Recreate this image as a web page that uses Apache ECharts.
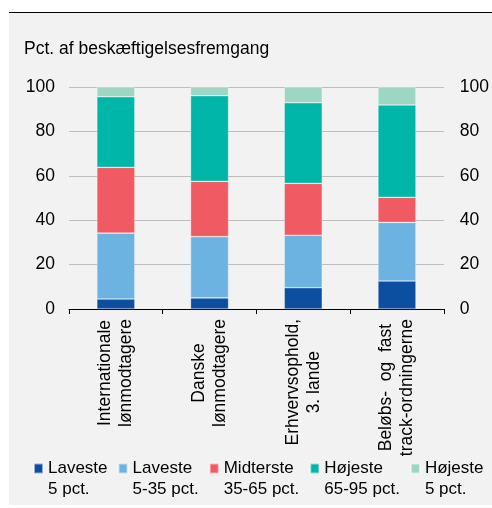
<!DOCTYPE html>
<html>
<head>
<meta charset="utf-8">
<script src="https://cdn.jsdelivr.net/npm/echarts@6/dist/echarts.min.js"></script>
<style>
  html, body { margin: 0; padding: 0; background: #ffffff; }
  #wrap { position: relative; width: 492px; height: 508px; overflow: hidden; }
  #panel { position: absolute; left: 9px; top: 12px; width: 483px; height: 493px; background: #f2f2f2; border-top: 1.5px solid #000; box-sizing: border-box; }
  #chart { position: absolute; left: 0; top: 0; width: 492px; height: 508px; }
</style>
</head>
<body>
<div id="wrap">
  <div id="panel"></div>
  <div id="chart"></div>
</div>
<script>
// ---- data ----
const categories = [
  'Internationale\nlønmodtagere',
  'Danske\nlønmodtagere',
  'Erhvervsophold,\n3. lande',
  'Beløbs-  og  fast\ntrack-ordningerne'
];
const seriesNames = [
  'Laveste\n5 pct.',
  'Laveste\n5-35 pct.',
  'Midterste\n35-65 pct.',
  'Højeste\n65-95 pct.',
  'Højeste\n5 pct.'
];
const laveste5 = [4.5, 5.0, 9.6, 12.6];
const laveste5_35 = [29.7, 27.6, 23.6, 26.4];
const midterste35_65 = [29.6, 24.9, 23.4, 11.3];
const hojeste65_95 = [31.8, 38.6, 36.3, 41.6];
const hojeste5 = [4.4, 3.9, 7.1, 8.1];
const yTicks = [0, 20, 40, 60, 80, 100];
const yTitle = 'Pct. af beskæftigelsesfremgang';

const seriesData = [laveste5, laveste5_35, midterste35_65, hojeste65_95, hojeste5];
const colors = ['#0c4fa1', '#6db3e1', '#f05a62', '#00b6a8', '#9dd7c3'];

const chart = echarts.init(document.getElementById('chart'), null, { renderer: 'canvas' });
const FONT = 'Liberation Sans, Arial, sans-serif';
const FS = 17.5;

const yAxisCommon = {
  type: 'value',
  min: yTicks[0],
  max: yTicks[yTicks.length - 1],
  interval: yTicks[1] - yTicks[0],
  axisLine: { show: false },
  axisTick: { show: false },
  splitLine: { show: true, lineStyle: { color: '#bdbdbd', width: 1 } },
  axisLabel: { color: '#000', fontSize: FS, fontFamily: FONT }
};

const option = {
  animation: false,
  backgroundColor: 'transparent',
  color: colors,
  title: {
    text: yTitle,
    left: 24,
    top: 40,
    padding: 0,
    textStyle: { color: '#000', fontSize: FS, fontWeight: 'normal', fontFamily: FONT }
  },
  grid: { left: 69, right: 45, top: 87, bottom: 199, containLabel: false },
  legend: {
    data: seriesNames,
    left: 33,
    top: 437,
    width: 470,
    padding: 0,
    itemGap: 10,
    itemWidth: 9,
    itemHeight: 10,
    icon: 'rect',
    formatter: function (name) { return '\n' + name; },
    textStyle: { color: '#000', fontSize: 17, lineHeight: 21, fontFamily: FONT }
  },
  xAxis: {
    type: 'category',
    data: categories,
    axisLine: { show: true, lineStyle: { color: '#000', width: 1 } },
    axisTick: { show: true, length: 5, lineStyle: { color: '#000' } },
    splitLine: { show: false },
    axisLabel: {
      rotate: 90,
      margin: 10,
      interval: 0,
      color: '#000',
      fontSize: FS,
      fontFamily: FONT,
      lineHeight: 21,
      formatter: function (v) {
        return v.split('\n').map(function (s) { return '{c|' + s + '}'; }).join('\n');
      },
      rich: { c: { align: 'center', fontSize: FS, lineHeight: 21, fontFamily: FONT, color: '#000' } }
    }
  },
  yAxis: [
    Object.assign({}, yAxisCommon, { position: 'left', axisLabel: Object.assign({}, yAxisCommon.axisLabel, { margin: 14 }) }),
    Object.assign({}, yAxisCommon, { position: 'right', splitLine: { show: false }, axisLabel: Object.assign({}, yAxisCommon.axisLabel, { margin: 16 }) })
  ],
  series: seriesNames.map(function (name, i) {
    return {
      name: name,
      type: 'bar',
      stack: 'total',
      yAxisIndex: 0,
      barWidth: 38,
      data: seriesData[i],
      itemStyle: { color: colors[i], borderColor: 'rgba(255,255,255,0.55)', borderWidth: 0.6 }
    };
  })
};
chart.setOption(option);
</script>
</body>
</html>
